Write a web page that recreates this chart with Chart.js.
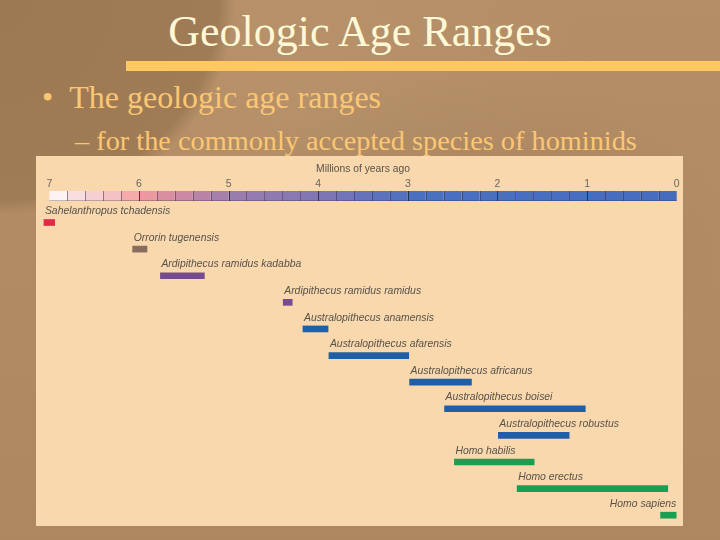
<!DOCTYPE html>
<html>
<head>
<meta charset="utf-8">
<script src="https://cdn.jsdelivr.net/npm/chart.js@4.4.1/dist/chart.umd.min.js"></script>
<style>
  html, body { margin: 0; padding: 0; }
  body {
    width: 720px; height: 540px; overflow: hidden; position: relative;
    background:
      radial-gradient(ellipse 235px 215px at 0px 0px, #9d7953 0%, #a07c56 93%, rgba(160,124,86,0) 100%),
      radial-gradient(ellipse 260px 160px at 470px 230px, rgba(120,90,60,0.16), rgba(120,90,60,0) 100%),
      radial-gradient(ellipse 300px 200px at 300px 90px, rgba(200,170,130,0.15), rgba(200,170,130,0) 100%),
      linear-gradient(180deg, #b48e67 0%, #b08a63 60%, #ad8760 100%);
    font-family: "Liberation Serif", "Times New Roman", serif;
  }
  .txt { position: absolute; white-space: nowrap; line-height: 1; }
  #title { left: 0; width: 720px; text-align: center; top: 10px; font-size: 44px; color: #fff8d6; }
  #rule { position: absolute; left: 126px; top: 61px; width: 594px; height: 10px; background: #ffc862; }
  #b1 { left: 42px; top: 81px; font-size: 32px; color: #fbc774; }
  #b2 { left: 75px; top: 127px; font-size: 28.3px; color: #fbc774; }
  #panel { position: absolute; left: 36px; top: 156px; width: 647px; height: 370px; background: #f8d8ac; }
  #wrap { position: absolute; left: 36px; top: 156px; width: 647px; height: 384px; }
</style>
</head>
<body>
<div id="title" class="txt">Geologic Age Ranges</div>
<div id="rule"></div>
<div id="b1" class="txt">•&nbsp;&nbsp;The geologic age ranges</div>
<div id="b2" class="txt">– for the commonly accepted species of hominids</div>
<div id="panel"></div>
<div id="wrap"><canvas id="c" width="647" height="384"></canvas></div>
<script>
// ---- data ----
const species = [
  'Sahelanthropus tchadensis',
  'Orrorin tugenensis',
  'Ardipithecus ramidus kadabba',
  'Ardipithecus ramidus ramidus',
  'Australopithecus anamensis',
  'Australopithecus afarensis',
  'Australopithecus africanus',
  'Australopithecus boisei',
  'Australopithecus robustus',
  'Homo habilis',
  'Homo erectus',
  'Homo sapiens'
];
// millions of years ago: first appearance (older) and last appearance (younger)
const rangeStart = [7.06, 6.07, 5.76, 4.39, 4.17, 3.88, 2.98, 2.59, 1.99, 2.48, 1.78, 0.18];
const rangeEnd   = [6.94, 5.91, 5.27, 4.29, 3.89, 2.99, 2.29, 1.02, 1.20, 1.59, 0.10, 0.00];
const groups = ['sahel', 'orrorin', 'ardi', 'ardi', 'austral', 'austral', 'austral', 'austral', 'austral', 'homo', 'homo', 'homo'];
const tickValues = [7, 6, 5, 4, 3, 2, 1, 0];
const axisTitle = 'Millions of years ago';

// ---- styles ----
const groupColors = { sahel: '#e02a46', orrorin: '#8a6c5c', ardi: '#764b90', austral: '#1f5fa8', homo: '#1a9f52' };
const stripStep = 0.2;
const stripStops = [
  [7.0, [253, 243, 243]], [6.8, [248, 222, 223]], [6.6, [246, 208, 208]], [6.4, [244, 194, 194]],
  [6.2, [247, 170, 170]], [6.0, [236, 152, 160]], [5.8, [218, 143, 160]], [5.6, [203, 136, 162]],
  [5.4, [184, 131, 167]], [5.2, [166, 127, 171]], [5.0, [154, 125, 175]], [4.0, [124, 118, 181]],
  [3.5, [96, 114, 188]], [3.0, [74, 112, 192]], [0.0, [70, 108, 190]]
];
function stripColor(v) {
  for (let i = 0; i < stripStops.length - 1; i++) {
    const [a, ca] = stripStops[i], [b, cb] = stripStops[i + 1];
    if (v <= a + 1e-9 && v >= b - 1e-9) {
      const t = (a - v) / (a - b);
      const c = ca.map((x, k) => Math.round(x + (cb[k] - x) * t));
      return `rgb(${c[0]},${c[1]},${c[2]})`;
    }
  }
  return 'rgb(70,108,190)';
}

const TICK_LEN = 18.2;
const STRIP_H = 10;

const stripPlugin = {
  id: 'strip',
  afterDraw(chart) {
    const xs = chart.scales.x;
    const ctx = chart.ctx;
    const top = chart.chartArea.top - TICK_LEN;
    const maxV = tickValues[0], minV = tickValues[tickValues.length - 1];
    const n = Math.round((maxV - minV) / stripStep);
    ctx.save();
    for (let k = 0; k < n; k++) {
      const v0 = maxV - k * stripStep, v1 = maxV - (k + 1) * stripStep;
      const x0 = xs.getPixelForValue(v0), x1 = xs.getPixelForValue(v1);
      ctx.fillStyle = stripColor(v0);
      ctx.fillRect(x0, top, x1 - x0, STRIP_H);
    }
    ctx.fillStyle = 'rgba(50,45,70,0.3)';
    ctx.fillRect(xs.getPixelForValue(maxV), top + STRIP_H - 1, xs.getPixelForValue(minV) - xs.getPixelForValue(maxV), 1);
    for (let k = 1; k < n; k++) {
      const v = maxV - k * stripStep;
      const x = Math.round(xs.getPixelForValue(v)) + 0.5;
      const isInt = Math.abs(v - Math.round(v)) < 1e-6;
      ctx.strokeStyle = isInt ? 'rgba(35,30,45,0.8)' : 'rgba(50,40,70,0.5)';
      ctx.lineWidth = 1;
      ctx.beginPath();
      ctx.moveTo(x, top);
      ctx.lineTo(x, top + STRIP_H);
      ctx.stroke();
    }
    ctx.restore();
  }
};

const labelPlugin = {
  id: 'barLabels',
  afterDatasetsDraw(chart) {
    const ctx = chart.ctx;
    const meta = chart.getDatasetMeta(0);
    const area = chart.chartArea;
    ctx.save();
    ctx.font = 'italic 10.4px "Liberation Sans", Arial, sans-serif';
    ctx.fillStyle = '#58524b';
    ctx.textBaseline = 'alphabetic';
    meta.data.forEach((el, i) => {
      const left = Math.min(el.x, el.base);
      const right = Math.max(el.x, el.base);
      const text = chart.data.labels[i];
      const w = ctx.measureText(text).width;
      const y = el.y - 8.3;
      if (left + w > area.right + 4) {
        ctx.textAlign = 'right';
        ctx.fillText(text, right, y);
      } else {
        ctx.textAlign = 'left';
        ctx.fillText(text, left + 1, y);
      }
    });
    ctx.restore();
  }
};

new Chart(document.getElementById('c'), {
  type: 'bar',
  data: {
    labels: species,
    datasets: [{
      data: species.map((s, i) => [rangeStart[i], rangeEnd[i]]),
      backgroundColor: groups.map(g => groupColors[g]),
      borderWidth: 0,
      borderSkipped: false,
      barThickness: 6,
      clip: false
    }]
  },
  options: {
    indexAxis: 'y',
    responsive: false,
    animation: false,
    devicePixelRatio: 1,
    layout: { padding: { left: 13.3, right: 6.3, top: 0, bottom: 11.5 } },
    plugins: { legend: { display: false }, tooltip: { enabled: false }, title: { display: false } },
    scales: {
      x: {
        type: 'linear',
        position: 'top',
        reverse: true,
        min: 0,
        max: 7,
        afterBuildTicks: s => { s.ticks = tickValues.map(v => ({ value: v })); },
        ticks: {
          font: { family: '"Liberation Sans", Arial, sans-serif', size: 10.5 },
          color: '#6e665e',
          padding: 0.7,
          maxRotation: 0,
          autoSkip: false
        },
        grid: { display: true, drawOnChartArea: false, drawTicks: true, tickLength: TICK_LEN, tickColor: 'rgba(0,0,0,0)', color: 'rgba(0,0,0,0)' },
        border: { display: false },
        title: {
          display: true,
          text: axisTitle,
          font: { family: '"Liberation Sans", Arial, sans-serif', size: 10.3 },
          color: '#58524b',
          padding: { top: 6.8, bottom: 1.84 }
        }
      },
      y: {
        type: 'category',
        display: false,
        offset: true,
        grid: { display: false }
      }
    }
  },
  plugins: [stripPlugin, labelPlugin]
});
</script>
</body>
</html>
